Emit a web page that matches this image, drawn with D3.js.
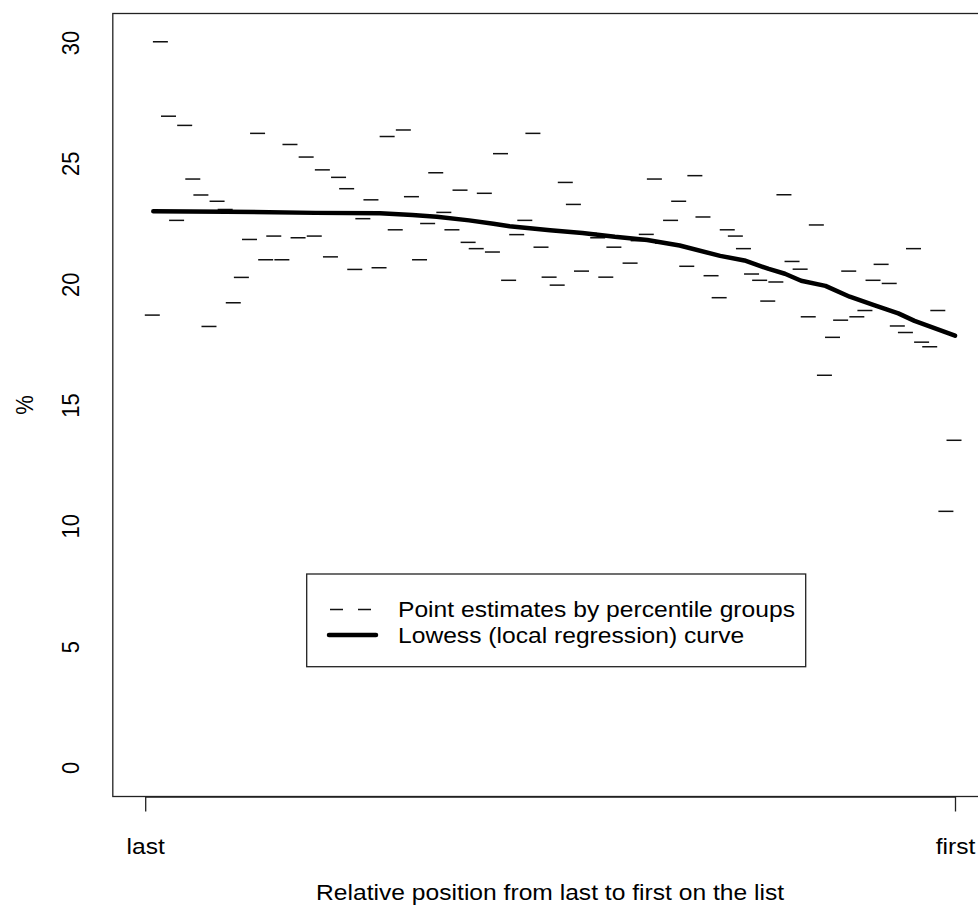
<!DOCTYPE html>
<html lang="en">
<head>
<meta charset="UTF-8">
<title>Lowess curve</title>
<script src="https://d3js.org/d3.v7.min.js"></script>
<style>
body { margin: 0; background: #fff; }
svg text { font-family: "Liberation Sans", Arial, sans-serif; fill: #000; }
</style>
</head>
<body>
<svg id="chart" width="978" height="910"></svg>
<script>
// point estimates, one per percentile group (1 = last ... 100 = first)
const estimates = [
  18.72, 30.03, 26.95, 22.64, 26.57, 24.35, 23.69, 18.25, 23.43, 23.09,
  19.23, 20.28, 21.85, 26.24, 21.01, 21.99, 21.01, 25.78, 21.92, 25.26,
  21.99, 24.73, 21.13, 24.42, 23.95, 20.61, 22.71, 23.49, 20.68, 26.11,
  22.25, 26.38, 23.62, 21.01, 22.51, 24.61, 22.97, 22.25, 23.89, 21.73,
  21.47, 23.76, 21.33, 25.40, 20.16, 22.05, 22.64, 26.24, 21.53, 20.29,
  19.96, 24.21, 23.30, 20.54, 22.10, 21.92, 20.29, 21.53, 21.95, 20.87,
  21.80, 22.06, 24.35, 21.70, 22.64, 23.43, 20.74, 24.49, 22.78, 20.35,
  19.44, 22.25, 21.99, 21.47, 20.42, 20.16, 19.30, 20.09, 23.70, 20.94,
  20.62, 18.65, 22.45, 16.23, 17.80, 18.51, 20.54, 18.65, 18.91, 20.16,
  20.82, 20.03, 18.27, 18.00, 21.47, 17.60, 17.41, 18.91, 10.60, 13.54
];

// lowess curve read at some of the groups
const lowessPos = [1, 10, 21, 29, 33, 36, 40, 43, 45, 50, 54, 58, 62, 66, 71, 74, 77, 79, 81, 84, 87, 90, 93, 95, 100];
const lowessVal = [23.02, 23.0, 22.95, 22.93, 22.86, 22.79, 22.64, 22.5, 22.4, 22.23, 22.12, 21.96, 21.83, 21.6, 21.17, 20.98, 20.63, 20.43, 20.14, 19.93, 19.48, 19.13, 18.79, 18.48, 17.87];

const yTicks = [0, 5, 10, 15, 20, 25, 30];
const xTicks = [0, 100];
const xTickLabels = ["last", "first"];
const legendLabels = ["Point estimates by percentile groups", "Lowess (local regression) curve"];

const fs = 22;      // font size
const sx = 1.12;    // the picture is a little wider than tall

const svg = d3.select("#chart");

const x = d3.scaleLinear().domain([0, 100]).range([145.2, 955]);
const y = d3.scaleLinear().domain([0, 30]).range([767.5, 42.5]);

// plot box (R style 4% padding)
svg.append("rect")
    .attr("x", x(-4)).attr("y", y(31.2))
    .attr("width", x(104) - x(-4)).attr("height", y(-1.2) - y(31.2))
    .attr("fill", "none").attr("stroke", "#222").attr("stroke-width", 1.3);

// x axis
const xAxis = svg.append("g")
    .attr("transform", `translate(0,${y(-1.2)})`)
    .call(d3.axisBottom(x).tickValues(xTicks)
        .tickFormat((d, i) => xTickLabels[i]).tickSize(15).tickSizeOuter(0));
xAxis.select(".domain").attr("stroke", "#222").attr("stroke-width", 1.3);
xAxis.selectAll(".tick line").attr("stroke", "#222").attr("stroke-width", 1.3);
xAxis.selectAll(".tick text")
    .attr("y", null).attr("dy", null)
    .attr("transform", `translate(0,57) scale(${sx},1)`)
    .style("font-size", fs + "px");

// y axis: rotated labels, no tick marks
const yAxis = svg.append("g")
    .attr("transform", `translate(${x(-4)},0)`)
    .call(d3.axisLeft(y).tickValues(yTicks).tickSize(0));
yAxis.select(".domain").remove();
yAxis.selectAll(".tick text")
    .attr("x", null).attr("dy", "0.35em")
    .attr("text-anchor", "middle")
    .attr("transform", `translate(${70 - x(-4)},0) scale(${sx},1) rotate(-90)`)
    .style("font-size", fs + "px");

// axis titles
svg.append("text")
    .attr("transform", `translate(${(x(-4) + x(104)) / 2},900) scale(${sx},1)`)
    .attr("text-anchor", "middle")
    .style("font-size", fs + "px")
    .text("Relative position from last to first on the list");
svg.append("text")
    .attr("transform", `translate(24,${(y(-1.2) + y(31.2)) / 2}) scale(${sx},1) rotate(-90)`)
    .attr("text-anchor", "middle").attr("dy", "0.35em")
    .style("font-size", fs + "px")
    .text("%");

// point estimates drawn as short dashes
svg.append("g").selectAll("line")
    .data(estimates)
    .join("line")
    .attr("x1", (d, i) => x(i + 1) - 8.5)
    .attr("x2", (d, i) => x(i + 1) + 6.5)
    .attr("y1", d => y(d))
    .attr("y2", d => y(d))
    .attr("stroke", "#111").attr("stroke-width", 1.5);

// lowess curve
const line = d3.line().x(d => x(d[0])).y(d => y(d[1]));
svg.append("path")
    .datum(lowessPos.map((p, i) => [p, lowessVal[i]]))
    .attr("d", line)
    .attr("fill", "none").attr("stroke", "#000")
    .attr("stroke-width", 4.5)
    .attr("stroke-linejoin", "round").attr("stroke-linecap", "round");

// legend
const lg = svg.append("g");
lg.append("rect")
    .attr("x", 306.7).attr("y", 574).attr("width", 499).attr("height", 92.7)
    .attr("fill", "#fff").attr("stroke", "#222").attr("stroke-width", 1.3);
lg.append("line")
    .attr("x1", 330).attr("x2", 372).attr("y1", 609.5).attr("y2", 609.5)
    .attr("stroke", "#111").attr("stroke-width", 1.5).attr("stroke-dasharray", "13,15");
lg.append("line")
    .attr("x1", 329).attr("x2", 376).attr("y1", 635).attr("y2", 635)
    .attr("stroke", "#000").attr("stroke-width", 4.5).attr("stroke-linecap", "round");
lg.selectAll("text")
    .data(legendLabels)
    .join("text")
    .attr("transform", (d, i) => `translate(398,${609.5 + i * 25.5}) scale(${sx},1)`)
    .attr("dy", "0.35em")
    .style("font-size", fs + "px")
    .text(d => d);
</script>
</body>
</html>
